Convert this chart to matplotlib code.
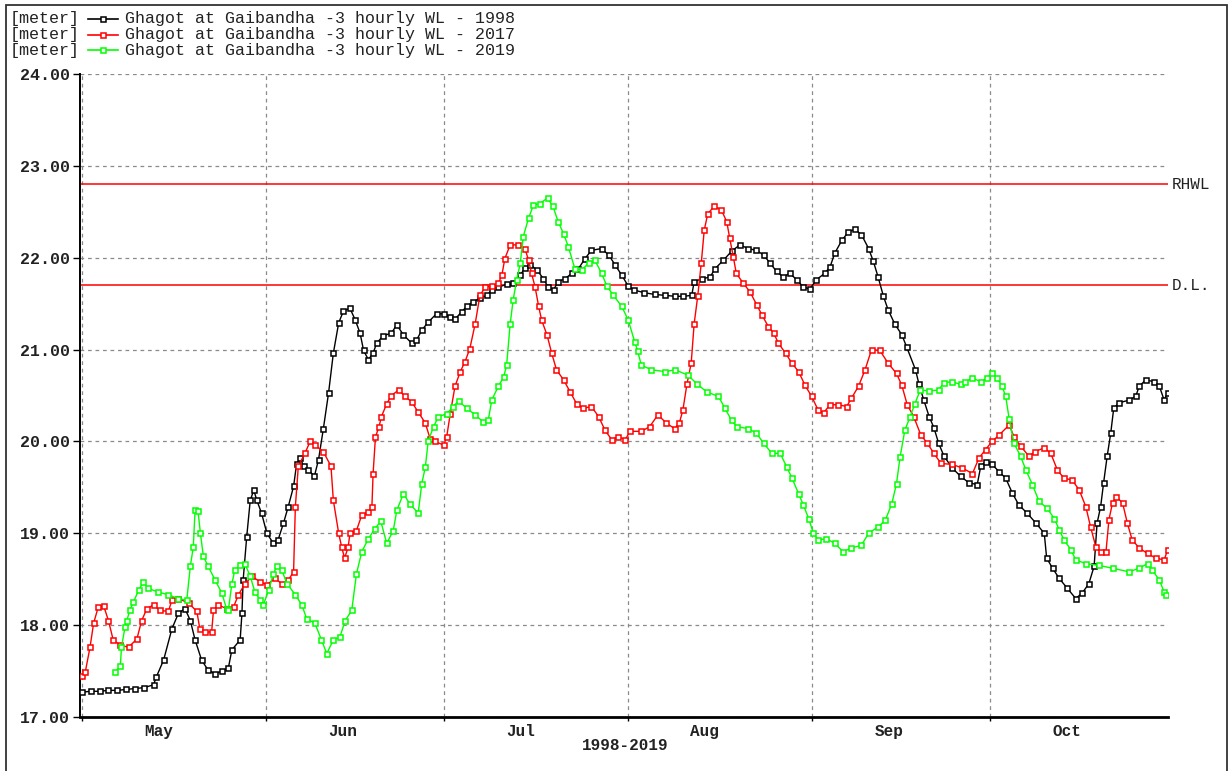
import matplotlib
matplotlib.use('Agg')
import matplotlib.pyplot as plt
from matplotlib.lines import Line2D
from matplotlib.patches import Rectangle
import matplotlib.transforms as mtransforms

plt.rcParams['font.family'] = ['Liberation Mono', 'DejaVu Sans Mono']

# ---------------- data ----------------
months = ['May', 'Jun', 'Jul', 'Aug', 'Sep', 'Oct']
month_start_day = [0, 31, 61, 92, 123, 153, 184]   # day index from 1 May
y_ticks = [17, 18, 19, 20, 21, 22, 23, 24]
y_tick_labels = ['17.00', '18.00', '19.00', '20.00', '21.00', '22.00', '23.00', '24.00']
x_axis_title = '1998-2019'

rhwl_level = 22.80
danger_level = 21.70
ref_labels = ['RHWL', 'D.L.']

series_names = ['Ghagot at Gaibandha -3 hourly WL - 1998',
                'Ghagot at Gaibandha -3 hourly WL - 2017',
                'Ghagot at Gaibandha -3 hourly WL - 2019']
series_colors = ['#000000', '#ff0000', '#00ff00']

days_1998 = [0, 1.5, 3, 4.5, 6, 7.5, 9, 10.5, 12.1, 12.6, 13.8, 15.2, 16.3, 17.4, 18.3, 19.1, 20.2,
             21.3, 22.5, 23.6, 24.7, 25.3, 26.7,
             27.0, 27.2, 27.8, 28.4, 29.0, 29.5, 30.3, 31.2, 32.3, 33.1, 34.0, 34.8, 35.7, 36.2, 36.8,
             37.4, 38.2, 39.2, 39.9, 40.7, 41.6, 42.4, 43.3, 44.1, 45.2, 46.1, 46.9, 47.5, 48.3, 49.1,
             49.7, 50.8, 52.2, 53.1, 54.2, 55.6, 56.4, 57.3, 58.4, 59.8, 61.0, 62.1, 62.9, 64.0, 64.9,
             66.0, 67.1, 68.3, 69.1, 70.2, 71.6, 72.7, 73.9, 74.7, 75.6, 76.7, 77.8, 78.6, 79.5, 80.3,
             81.4, 82.6, 83.7, 84.8, 85.9, 87.6, 88.8, 89.9, 91.0, 92.1, 93.0, 94.7, 96.6, 98.3, 100.0,
             101.4, 102.8,
             103.2, 104.5, 105.9, 106.7, 108.1, 109.5, 110.9, 112.3, 113.7, 114.9, 116.0, 117.1, 118.2,
             119.3, 120.5, 121.6, 122.7, 123.8, 125.2, 126.1, 126.9, 128.1, 129.2, 130.3, 131.4, 132.6,
             133.4, 134.2, 135.1, 135.9, 137.0, 138.2, 139.0, 140.5, 141.1, 141.9, 142.8, 143.6, 144.4,
             145.3, 146.7, 148.1, 149.5, 150.9, 151.5, 152.3, 153.4, 154.6, 155.7, 156.8, 157.9, 159.3,
             160.8, 162.2, 162.6, 163.6, 164.7, 166.1, 167.5, 168.6, 169.7, 170.6, 171.1, 171.7, 172.2,
             172.8, 173.4, 173.9, 174.8, 176.5, 177.6, 178.2, 179.3, 180.7, 181.6, 182.4, 183.0]
wl_1998 = [17.27, 17.28, 17.28, 17.29, 17.29, 17.30, 17.31, 17.32, 17.35, 17.44, 17.62, 17.96, 18.13,
           18.18, 18.05, 17.84, 17.62, 17.51, 17.47, 17.50,
           17.53, 17.73, 17.84, 18.13, 18.49, 18.96, 19.36, 19.47, 19.36, 19.22, 19.00, 18.89, 18.93,
           19.11, 19.29, 19.51, 19.75, 19.82, 19.73, 19.69, 19.62, 19.80, 20.13, 20.53, 20.96, 21.29,
           21.42, 21.45, 21.32, 21.18, 20.99, 20.89, 20.96, 21.07, 21.15, 21.18, 21.27, 21.16, 21.07,
           21.10, 21.21, 21.30, 21.39, 21.39, 21.36, 21.33, 21.41, 21.47, 21.52, 21.56, 21.59, 21.65,
           21.68, 21.71, 21.72, 21.81, 21.89, 21.92, 21.87, 21.77, 21.68, 21.65, 21.74, 21.77, 21.83,
           21.88, 21.99, 22.08, 22.10, 22.03, 21.92, 21.81, 21.69, 21.65, 21.62, 21.60, 21.59, 21.58,
           21.58, 21.59,
           21.74, 21.77, 21.79, 21.88, 21.97, 22.07, 22.14, 22.10, 22.08, 22.03, 21.94, 21.85, 21.79,
           21.83, 21.76, 21.68, 21.66, 21.76, 21.83, 21.90, 22.05, 22.19, 22.28, 22.31, 22.25, 22.10,
           21.96, 21.79, 21.58, 21.43, 21.28, 21.16, 21.03, 20.78, 20.62, 20.45, 20.27, 20.15, 19.98,
           19.84, 19.71, 19.62, 19.55, 19.53, 19.73, 19.78, 19.75, 19.67, 19.60, 19.44, 19.31, 19.22,
           19.11, 19.00, 18.73, 18.62, 18.51, 18.40, 18.29, 18.35, 18.45, 18.64, 19.11, 19.29, 19.55,
           19.84, 20.09, 20.36, 20.42, 20.45, 20.49, 20.60, 20.67, 20.65, 20.60, 20.45, 20.53]

days_2017 = [0, 0.6, 1.4, 2.0, 2.8, 3.7, 4.5, 5.3, 6.5, 7.9, 9.3, 10.1, 11.0, 12.1, 13.2, 14.6, 15.2,
             16.3, 18.0, 19.4, 19.9, 20.8, 21.9, 22.2, 23.0, 24.4, 25.6, 26.4, 27.5, 28.7, 30.1, 31.2,
             32.6, 33.7, 34.8, 35.7, 36.0, 36.5, 37.6, 38.5, 39.3, 40.7, 42.0, 42.4, 43.3, 43.8, 44.3,
             44.9, 45.2, 46.3, 47.2, 48.3, 48.9, 49.1, 49.5, 50.1, 50.5, 51.4, 52.2, 53.4, 54.5, 55.6,
             56.7, 57.9, 58.7, 59.5, 61.0, 61.5, 62.1, 62.9, 63.8, 64.6, 65.4, 66.3, 67.1, 68.0, 69.1,
             70.2, 70.8, 71.3, 72.2, 73.6, 74.7, 75.3, 75.8, 76.4, 77.0, 77.5, 78.4, 79.2, 80.0, 81.2,
             82.3, 83.4, 84.5, 85.9, 87.1, 88.2, 89.3, 90.4, 91.6, 92.4, 94.3, 95.7, 97.1, 98.5, 99.9,
             100.7, 101.3, 102.0, 102.7, 103.2, 103.8, 104.4, 104.9, 105.5, 106.6, 107.8, 108.7, 109.2,
             109.8, 110.3, 111.5, 112.6, 113.8, 114.6, 115.7, 116.6, 117.4, 118.6, 119.7, 120.8, 121.9,
             123.0, 124.1, 125.0, 126.1, 127.5, 128.9, 129.7, 130.9, 132.0, 133.1, 134.5, 135.9, 137.3,
             138.2, 139.1, 140.2, 141.4, 142.5, 143.6, 144.8, 146.7, 148.4, 150.1, 151.2, 152.3, 153.4,
             154.6, 156.3, 157.1, 158.2, 159.6, 160.7, 162.2, 163.3, 164.4, 165.5, 166.9, 168.1, 169.2,
             170.0, 170.9, 171.7, 172.6, 173.1, 173.7, 174.3, 175.4, 176.2, 177.0, 178.2, 179.6, 181.0,
             182.4, 183.0]
wl_2017 = [17.45, 17.49, 17.76, 18.02, 18.20, 18.21, 18.05, 17.84, 17.78, 17.76, 17.85, 18.05, 18.18,
           18.22, 18.16, 18.15, 18.27, 18.29, 18.24, 18.15, 17.96, 17.92, 17.93, 18.16, 18.22, 18.18,
           18.20, 18.33, 18.45, 18.53, 18.47, 18.44, 18.51, 18.45, 18.49, 18.58, 19.29, 19.73, 19.87,
           20.00, 19.96, 19.89, 19.73, 19.36, 19.00, 18.85, 18.73, 18.85, 19.00, 19.03, 19.20, 19.23,
           19.29, 19.65, 20.05, 20.16, 20.27, 20.41, 20.50, 20.56, 20.49, 20.43, 20.32, 20.20, 20.03,
           20.00, 19.96, 20.05, 20.30, 20.60, 20.76, 20.87, 21.01, 21.28, 21.59, 21.68, 21.69, 21.72,
           21.81, 21.99, 22.14, 22.14, 22.10, 21.97, 21.83, 21.68, 21.47, 21.32, 21.16, 20.96, 20.78,
           20.67, 20.54, 20.41, 20.36, 20.38, 20.27, 20.12, 20.02, 20.05, 20.02, 20.11, 20.11, 20.16,
           20.29, 20.20, 20.14, 20.20, 20.34, 20.63, 20.85, 21.28, 21.58, 21.94, 22.30, 22.48, 22.56,
           22.52, 22.39, 22.21, 22.01, 21.83, 21.72, 21.63, 21.48, 21.38, 21.25, 21.18, 21.07, 20.96,
           20.85, 20.76, 20.61, 20.49, 20.34, 20.31, 20.40, 20.40, 20.38, 20.47, 20.60, 20.78, 21.00,
           20.99, 20.85, 20.74, 20.61, 20.40, 20.27, 20.07, 19.98, 19.87, 19.76, 19.75, 19.71, 19.65,
           19.82, 19.91, 20.00, 20.07, 20.18, 20.05, 19.95, 19.84, 19.89, 19.93, 19.87, 19.69, 19.60,
           19.58, 19.47, 19.29, 19.07, 18.85, 18.80, 18.80, 19.15, 19.33, 19.40, 19.33, 19.11, 18.93,
           18.84, 18.78, 18.73, 18.71, 18.82]

days_2019 = [5.6, 6.5, 6.7, 7.3, 7.6, 8.1, 8.7, 9.6, 10.4, 11.2, 12.9, 14.6, 16.3, 17.7, 18.3, 18.8,
             19.1, 19.6, 20.0, 20.5, 21.3, 22.5, 23.6, 24.4, 24.7, 25.3, 25.8, 26.7, 27.5, 28.4, 29.2,
             30.1, 30.6, 31.5, 32.3, 32.9, 33.7, 34.6, 36.0, 37.1, 37.9, 39.3, 40.4, 41.3, 42.4, 43.5,
             44.4, 45.5, 46.3, 47.2, 48.3, 49.4, 50.4, 51.4, 52.5, 53.1, 54.2, 55.3, 56.7, 57.3, 57.9,
             58.4, 59.3, 60.1, 61.5, 62.6, 63.5, 64.9, 66.3, 67.7, 68.5, 69.1, 70.2, 71.1, 71.6, 72.2,
             72.7, 73.3, 73.9, 74.4, 75.3, 76.1, 77.2, 78.5, 79.4, 80.3, 81.2, 82.0, 83.1, 84.3, 85.4,
             86.5, 87.6, 88.5, 89.6, 91.0, 92.1, 93.2, 93.7, 94.3, 96.0, 98.3, 100.0, 102.2, 103.6,
             105.3, 107.3, 108.4, 109.5, 110.4, 112.3, 113.7, 114.9, 116.3, 117.7, 118.8, 119.7, 120.8,
             121.6, 122.5, 123.3, 124.1, 125.5, 126.9, 128.3, 129.7, 131.4, 132.6, 134.2, 135.4, 136.5,
             137.3, 137.9, 138.7, 139.6, 140.4, 141.3, 142.8, 144.4, 145.3, 146.7, 148.1, 148.9, 150.1,
             151.5, 152.6, 153.4, 154.3, 155.1, 155.7, 156.3, 157.1, 158.2, 159.1, 160.2, 161.3, 162.7,
             163.9, 164.7, 165.5, 166.7, 167.5, 169.2, 171.4, 173.7, 176.5, 178.2, 179.6, 180.4, 181.6,
             182.4, 182.7]
wl_2019 = [17.49, 17.55, 17.76, 17.98, 18.05, 18.16, 18.25, 18.38, 18.47, 18.40, 18.36, 18.33, 18.29,
           18.27, 18.64, 18.85, 19.25, 19.24, 19.00, 18.75, 18.64, 18.49, 18.35, 18.18, 18.16, 18.45,
           18.60, 18.65, 18.67, 18.53, 18.36, 18.27, 18.22, 18.38, 18.56, 18.64, 18.60, 18.45, 18.33,
           18.22, 18.07, 18.02, 17.84, 17.69, 17.84, 17.87, 18.05, 18.16, 18.56, 18.80, 18.94, 19.05,
           19.13, 18.89, 19.03, 19.25, 19.43, 19.32, 19.22, 19.54, 19.72, 20.01, 20.16, 20.27, 20.30,
           20.38, 20.44, 20.36, 20.29, 20.21, 20.23, 20.45, 20.60, 20.70, 20.83, 21.28, 21.54, 21.76,
           21.94, 22.23, 22.43, 22.57, 22.59, 22.65, 22.56, 22.39, 22.26, 22.12, 21.88, 21.87, 21.94,
           21.97, 21.83, 21.69, 21.59, 21.47, 21.32, 21.08, 20.98, 20.83, 20.78, 20.76, 20.78, 20.72,
           20.63, 20.54, 20.49, 20.36, 20.23, 20.16, 20.14, 20.09, 19.98, 19.87, 19.87, 19.72, 19.60,
           19.43, 19.31, 19.16, 19.00, 18.93, 18.94, 18.89, 18.80, 18.84, 18.87, 19.00, 19.07, 19.14,
           19.32, 19.54, 19.83, 20.12, 20.27, 20.41, 20.56, 20.55, 20.56, 20.64, 20.65, 20.62, 20.65,
           20.69, 20.65, 20.69, 20.75, 20.69, 20.60, 20.49, 20.24, 19.98, 19.84, 19.69, 19.53, 19.35,
           19.27, 19.16, 19.04, 18.93, 18.82, 18.71, 18.67, 18.65, 18.62, 18.58, 18.62, 18.67, 18.60,
           18.49, 18.36, 18.33]

all_days = [days_1998, days_2017, days_2019]
all_wl = [wl_1998, wl_2017, wl_2019]

# ---------------- figure ----------------
W, H = 1232, 771
fig = plt.figure(figsize=(W / 100, H / 100), dpi=100)
fig.patch.set_facecolor('white')

ax_l, ax_r, ax_t, ax_b = 80, 1168, 74, 717
ax = fig.add_axes([ax_l / W, 1 - ax_b / H, (ax_r - ax_l) / W, (ax_b - ax_t) / H])
ax.set_xlim(-0.29, 183.05)
ax.set_ylim(17, 24)

grid_kw = dict(color='#8a8a8a', lw=0.9, linestyle=(0, (3, 3)))
for d in month_start_day[:-1]:
    ax.axvline(d, zorder=0, **grid_kw)
for yv in y_ticks:
    ax.axhline(yv, zorder=0, **grid_kw)

ax.axhline(rhwl_level, color='#ff0000', lw=1.1, zorder=1)
ax.axhline(danger_level, color='#ff0000', lw=1.1, zorder=1)
trans = mtransforms.blended_transform_factory(ax.transAxes, ax.transData)
for lvl, lab in zip([rhwl_level, danger_level], ref_labels):
    ax.text(1.003, lvl, lab, transform=trans, ha='left', va='center', fontsize=11.5,
            color='#222222')

for d, v, c in zip(all_days, all_wl, series_colors):
    ax.plot(d, v, color=c, lw=1.0, marker='s', ms=3.6, mfc='white', mec=c, mew=1.1,
            zorder=3)

for s in ['top', 'right']:
    ax.spines[s].set_visible(False)
ax.spines['left'].set_linewidth(1.4)
ax.spines['bottom'].set_linewidth(2.0)

ax.set_yticks(y_ticks)
ax.set_yticklabels(y_tick_labels, fontsize=12, fontweight='bold', color='#222222')
ax.tick_params(axis='y', length=5, width=1, pad=2)

ax.set_xticks(month_start_day[:-1])
ax.set_xticklabels([''] * (len(month_start_day) - 1))
ax.tick_params(axis='x', which='major', length=3, width=1)
label_pos = [month_start_day[i] + 13 for i in range(len(months))]
ax.set_xticks(label_pos, minor=True)
ax.set_xticklabels(months, minor=True, fontsize=11.5, fontweight='bold', color='#222222')
ax.tick_params(axis='x', which='minor', length=0, pad=5)

fig.text(625 / W, 1 - 745 / H, x_axis_title, ha='center', va='center', fontsize=11.5,
         fontweight='bold', color='#222222')

# legend rows
for i, (name, c) in enumerate(zip(series_names, series_colors)):
    yf = 1 - (19 + 15.5 * i) / H
    fig.text(10 / W, yf, '[meter]', ha='left', va='center', fontsize=12, color='#222222')
    fig.add_artist(Line2D([88 / W, 118 / W], [yf, yf], color=c, lw=1.2,
                          transform=fig.transFigure))
    fig.add_artist(Line2D([103 / W], [yf], marker='s', ms=3.6, mfc='white', mec=c, mew=1.1,
                          color=c, transform=fig.transFigure))
    fig.text(125 / W, yf, name, ha='left', va='center', fontsize=12, color='#222222')

fig.add_artist(Rectangle((6 / W, -0.02), (1227 - 6) / W, 1 - 5 / H + 0.02, fill=False,
                         lw=1.3, ec='#333333', transform=fig.transFigure))

fig.savefig('out.png', dpi=100, facecolor='white')
